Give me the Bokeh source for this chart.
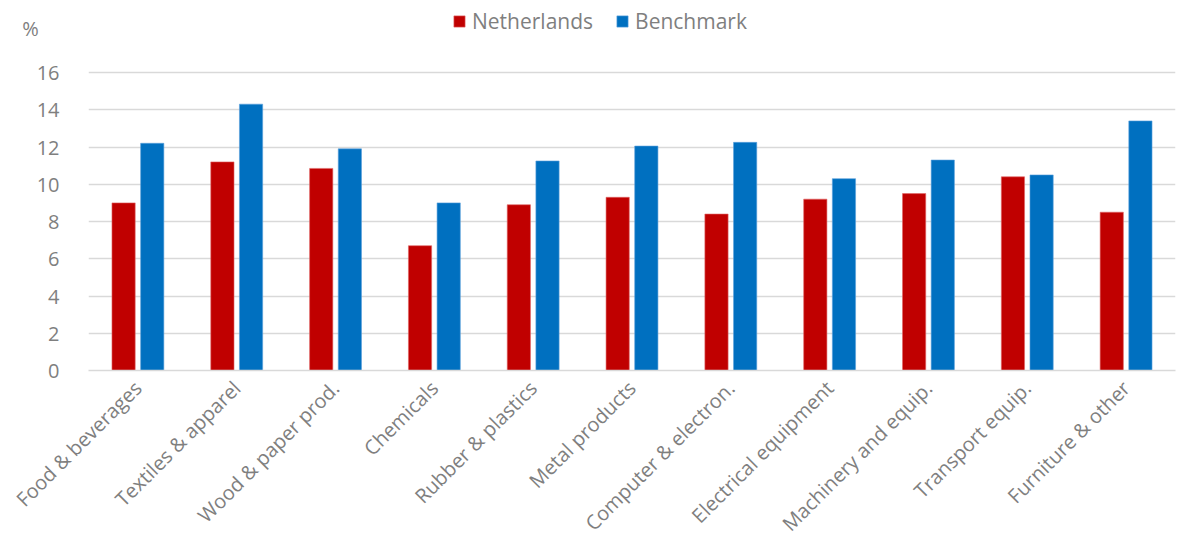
from math import pi

from bokeh.embed import file_html
from bokeh.resources import INLINE
from bokeh.plotting import figure
from bokeh.models import (ColumnDataSource, FactorRange, FixedTicker, Legend,
                          LegendItem, Range1d)
from bokeh.transform import dodge

# Sector names and the two series (percent)
sectors = [
    "Food & beverages", "Textiles & apparel", "Wood & paper prod.", "Chemicals",
    "Rubber & plastics", "Metal products", "Computer & electron.",
    "Electrical equipment", "Machinery and equip.", "Transport equip.",
    "Furniture & other",
]
netherlands = [9.0, 11.2, 10.85, 6.7, 8.9, 9.3, 8.4, 9.2, 9.5, 10.4, 8.5]
benchmark = [12.2, 14.3, 11.9, 9.0, 11.25, 12.05, 12.25, 10.3, 11.3, 10.5, 13.4]
y_ticks = [0, 2, 4, 6, 8, 10, 12, 14, 16]
unit_label = "%"

RED = "#c00000"
BLUE = "#0070c0"
GREY_TEXT = "#7f7f7f"
FONT = "Open Sans"

# Frame spans the full height above the axis; headroom above 16 holds the legend
FRAME_H = 370
PX_PER_UNIT = 298 / 16
UNIT_Y = (FRAME_H - 28) / PX_PER_UNIT   # height of the "%" unit marker

source = ColumnDataSource(dict(sector=sectors, nl=netherlands, bm=benchmark))

p = figure(
    width=1180, height=549,
    x_range=FactorRange(*sectors, range_padding=0),
    y_range=Range1d(0, FRAME_H / PX_PER_UNIT),
    output_backend="svg", toolbar_location=None,
    min_border_left=88, min_border_right=5,
    min_border_top=0, min_border_bottom=179,
)
p.outline_line_color = None
p.background_fill_color = "white"
p.border_fill_color = "white"

r_nl = p.vbar(x=dodge("sector", -0.145, range=p.x_range), top="nl", width=0.235,
              source=source, fill_color=RED, line_color="#e06666", line_width=0.6)
r_bm = p.vbar(x=dodge("sector", 0.145, range=p.x_range), top="bm", width=0.235,
              source=source, fill_color=BLUE, line_color="#5aa0dc", line_width=0.6)

# Value axis: numeric ticks plus the unit marker sitting above them
p.yaxis.ticker = FixedTicker(ticks=y_ticks + [UNIT_Y])
p.yaxis.major_label_overrides = {UNIT_Y: unit_label + "\u00a0" * 4}
p.yaxis.axis_line_color = None
p.yaxis.major_tick_line_color = None
p.yaxis.minor_tick_line_color = None
p.yaxis.major_label_text_font = FONT
p.yaxis.major_label_text_font_size = "20px"
p.yaxis.major_label_text_color = GREY_TEXT
p.yaxis.major_label_standoff = 23

p.xaxis.axis_line_color = "#d9d9d9"
p.xaxis.axis_line_width = 1.5
p.xaxis.major_tick_line_color = None
p.xaxis.minor_tick_line_color = None
p.xaxis.major_label_orientation = pi / 4
p.xaxis.major_label_text_font = FONT
p.xaxis.major_label_text_font_size = "20px"
p.xaxis.major_label_text_color = GREY_TEXT
p.xaxis.major_label_standoff = 8

p.xgrid.grid_line_color = None
p.ygrid.ticker = FixedTicker(ticks=y_ticks)
p.ygrid.grid_line_color = "#d9d9d9"
p.ygrid.grid_line_width = 1.5

legend = Legend(
    items=[LegendItem(label="Netherlands", renderers=[r_nl]),
           LegendItem(label="Benchmark", renderers=[r_bm])],
    orientation="horizontal", location=(364, FRAME_H - 35),
    label_text_font=FONT, label_text_font_size="21px", label_text_color=GREY_TEXT,
    glyph_width=14, glyph_height=14, spacing=22, label_standoff=6,
    border_line_color=None, background_fill_alpha=0, padding=0, margin=0,
)
p.add_layout(legend, "center")

open("out.html", "w").write(file_html(p, INLINE))
